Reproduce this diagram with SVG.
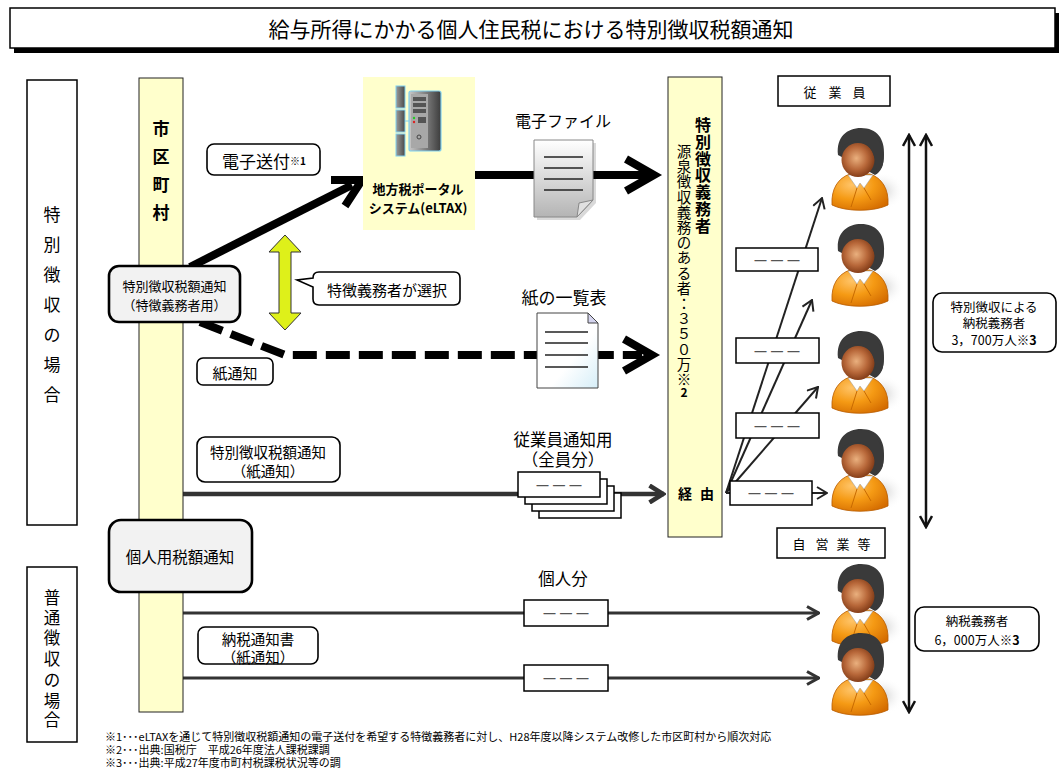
<svg xmlns="http://www.w3.org/2000/svg" width="1062" height="771" viewBox="0 0 1062 771">
<defs>
  <style>
    text{font-family:"Noto Sans CJK JP","Noto Sans CJK SC",sans-serif;fill:#000}
    .c{text-anchor:middle;dominant-baseline:central}
    .b{font-weight:bold}
    .frame{fill:#fff;stroke:#000;stroke-width:1.5}
    .rnd{fill:#fff;stroke:#000;stroke-width:1.6}
    .gray{fill:#f2f2f2;stroke:#000;stroke-width:2.6}
    .col{fill:#ffffcc;stroke:#222;stroke-width:1}
    .dash3{fill:#555;font-size:16.5px}
    .thin{stroke:#222;stroke-width:2;fill:none}
    .mid{stroke:#333;stroke-width:3;fill:none}
    .wide{stroke:#333;stroke-width:4.5;fill:none}
    .heavy{stroke:#000;stroke-width:8;fill:none;stroke-linejoin:miter}
    .vert{stroke:#111;stroke-width:2.5;fill:none}
    .note{font-size:11px}
    .docline{stroke:#222;stroke-width:1.5}
  </style>
  <marker id="ah" viewBox="0 0 12 14" refX="11" refY="7" markerWidth="12" markerHeight="14" markerUnits="userSpaceOnUse" orient="auto-start-reverse">
    <path d="M1,1 L11,7 L1,13" fill="none" stroke="#222" stroke-width="2"/>
  </marker>
  <marker id="ahv" viewBox="0 0 14 14" refX="12" refY="7" markerWidth="14" markerHeight="14" markerUnits="userSpaceOnUse" orient="auto-start-reverse">
    <path d="M1,1 L12,7 L1,13" fill="none" stroke="#111" stroke-width="2.5"/>
  </marker>
  <marker id="ahm" viewBox="0 0 14 16" refX="13" refY="8" markerWidth="14" markerHeight="16" markerUnits="userSpaceOnUse" orient="auto">
    <path d="M1,1.5 L12.5,8 L1,14.5" fill="none" stroke="#333" stroke-width="3"/>
  </marker>
  <marker id="ahl" viewBox="0 0 18 20" refX="16" refY="10" markerWidth="18" markerHeight="20" markerUnits="userSpaceOnUse" orient="auto">
    <path d="M1.5,1.5 L15,10 L1.5,18.5" fill="none" stroke="#333" stroke-width="4.5"/>
  </marker>
  <radialGradient id="gOrange" cx="35%" cy="30%" r="80%">
    <stop offset="0" stop-color="#ffc468"/>
    <stop offset="0.5" stop-color="#f59a14"/>
    <stop offset="1" stop-color="#d46c00"/>
  </radialGradient>
  <radialGradient id="gFace" cx="45%" cy="45%" r="60%">
    <stop offset="0" stop-color="#eab07e"/>
    <stop offset="0.55" stop-color="#b8683a"/>
    <stop offset="1" stop-color="#7a3512"/>
  </radialGradient>
  <radialGradient id="gShadow" cx="50%" cy="50%" r="50%">
    <stop offset="0" stop-color="#cfcfcf"/>
    <stop offset="1" stop-color="#ffffff" stop-opacity="0"/>
  </radialGradient>
  <linearGradient id="gDocGray" x1="0" y1="0" x2="0" y2="1">
    <stop offset="0" stop-color="#ffffff"/>
    <stop offset="1" stop-color="#b4b4b4"/>
  </linearGradient>
  <linearGradient id="gDocBlue" x1="0" y1="0" x2="1" y2="1">
    <stop offset="0.6" stop-color="#ffffff"/>
    <stop offset="1" stop-color="#d6eef8"/>
  </linearGradient>
  <linearGradient id="gRack" x1="0" y1="0" x2="1" y2="0">
    <stop offset="0" stop-color="#9a9a9a"/>
    <stop offset="1" stop-color="#4a4a4a"/>
  </linearGradient>
  <linearGradient id="gTower" x1="0" y1="0" x2="1" y2="0">
    <stop offset="0" stop-color="#c8c8c8"/>
    <stop offset="1" stop-color="#3c3c3c"/>
  </linearGradient>
  <symbol id="person" viewBox="0 0 75 86" width="75" height="86" overflow="visible">
    <ellipse cx="52" cy="64" rx="23" ry="19" fill="url(#gShadow)"/>
    <path d="M2,78 C1,62 8,51 20,47 L40,47 C52,51 59,62 58,78 C44,85 16,85 2,78 Z" fill="url(#gOrange)" stroke="#b85c00" stroke-width="0.8"/>
    <path d="M18,48 L27,61 L30,56 L34,61 L43,48 Z" fill="#fff" stroke="#999" stroke-width="0.5"/>
    <path d="M27,61 L21,80 M34,61 L41,73" stroke="#c86a00" stroke-width="1" fill="none"/>
    <path d="M8,28 C6,10 17,1 31,1 C47,1 55,12 54,28 C54,38 51,45 45,48 L38,44 Z" fill="#3a3a3a"/>
    <ellipse cx="28" cy="33" rx="16.5" ry="17" fill="url(#gFace)"/>
    <path d="M10,27 C11,17 21,12 31,15 C39,17 43,24 45,33 L47,46 L52,40 C57,26 50,4 31,2 C14,2 7,14 10,27 Z" fill="#3a3a3a"/>
  </symbol>
</defs>

<rect width="1062" height="771" fill="#fff"/>

<!-- heading -->
<g id="title">
  <rect x="14" y="13" width="1045" height="40" fill="#000"/>
  <rect x="10" y="8" width="1045" height="40" class="frame"/>
  <text x="531" y="28" class="c" font-size="21">給与所得にかかる個人住民税における特別徴収税額通知</text>
</g>

<!-- section labels -->
<g id="lbl-special">
  <rect x="27" y="80" width="50" height="445" class="frame"/>
  <text class="c" font-size="17"><tspan x="52" y="213">特</tspan><tspan x="52" y="243">別</tspan><tspan x="52" y="273">徴</tspan><tspan x="52" y="303">収</tspan><tspan x="52" y="333">の</tspan><tspan x="52" y="363">場</tspan><tspan x="52" y="393">合</tspan></text>
</g>
<g id="lbl-normal">
  <rect x="27" y="567" width="50" height="175" class="frame"/>
  <text class="c" font-size="16.5"><tspan x="52" y="597">普</tspan><tspan x="52" y="617">通</tspan><tspan x="52" y="637">徴</tspan><tspan x="52" y="658">収</tspan><tspan x="52" y="679">の</tspan><tspan x="52" y="700">場</tspan><tspan x="52" y="719">合</tspan></text>
</g>

<!-- connectors -->
<g id="connectors">
  <line x1="190" y1="267" x2="352" y2="185" class="heavy"/>
  <polyline points="331,180 362,180 345,206" class="heavy"/>
  <line x1="475" y1="175" x2="646" y2="175" class="heavy"/>
  <polyline points="626,159 654,175 626,191" class="heavy"/>
  <path d="M200,322 L285,355 L642,355" class="heavy" stroke-dasharray="24 9"/>
  <polyline points="624,339 652,355 624,371" class="heavy"/>
  <line x1="183" y1="494" x2="664" y2="494" class="wide" marker-end="url(#ahl)"/>
  <line x1="183" y1="613" x2="819" y2="613" class="mid" marker-end="url(#ahm)"/>
  <line x1="183" y1="678" x2="819" y2="678" class="mid" marker-end="url(#ahm)"/>
  <line x1="726" y1="493" x2="822" y2="198" class="thin" marker-end="url(#ah)"/>
  <line x1="726" y1="493" x2="812" y2="300" class="thin" marker-end="url(#ah)"/>
  <line x1="726" y1="493" x2="818" y2="387" class="thin" marker-end="url(#ah)"/>
  <line x1="726" y1="493" x2="827" y2="493" class="thin" marker-end="url(#ah)"/>
  <line x1="909" y1="135" x2="909" y2="712" class="vert" marker-start="url(#ahv)" marker-end="url(#ahv)"/>
  <line x1="926" y1="135" x2="926" y2="527" class="vert" marker-start="url(#ahv)" marker-end="url(#ahv)"/>
</g>

<!-- municipality column -->
<g id="municipality">
  <rect x="139" y="78" width="44" height="634" class="col"/>
  <text class="c b" font-size="17"><tspan x="161" y="127">市</tspan><tspan x="161" y="155">区</tspan><tspan x="161" y="183">町</tspan><tspan x="161" y="211">村</tspan></text>
</g>

<g id="e-send">
  <rect x="207" y="144" width="113" height="31" rx="7" class="rnd"/>
  <text x="222" y="160" font-size="17" dominant-baseline="central">電子送付<tspan font-size="10" font-weight="bold">※1</tspan></text>
</g>

<g id="notice-employer">
  <rect x="109" y="266" width="131" height="56" rx="10" class="gray"/>
  <text x="174.5" y="285" class="c" font-size="13">特別徴収税額通知</text>
  <text x="174.5" y="304" class="c" font-size="13">（特徴義務者用）</text>
</g>

<g id="choice">
  <polygon points="285,235 301,252 291,252 291,313 301,313 285,330 269,313 279,313 279,252 269,252" fill="#def01a" stroke="#333" stroke-width="1"/>
  <path d="M319,272 H454 Q460,272 460,278 V299 Q460,305 454,305 H319 Q313,305 313,299 V287 L297,280 L313,278 V278 Q313,272 319,272 Z" class="rnd"/>
  <text x="387" y="289" class="c" font-size="15">特徴義務者が選択</text>
</g>

<g id="paper-send">
  <rect x="197" y="358" width="76" height="27" rx="6" class="rnd"/>
  <text x="235" y="372" class="c" font-size="15">紙通知</text>
</g>

<g id="eltax">
  <rect x="363" y="77" width="112" height="153" fill="#ffffcc"/>
  <rect x="396" y="86" width="9" height="22" fill="url(#gRack)" stroke="#7fd0f0" stroke-width="1"/>
  <rect x="396" y="110" width="9" height="22" fill="url(#gRack)" stroke="#7fd0f0" stroke-width="1"/>
  <rect x="396" y="134" width="9" height="22" fill="url(#gRack)" stroke="#7fd0f0" stroke-width="1"/>
  <line x1="405" y1="121" x2="409" y2="121" stroke="#7fd0f0" stroke-width="1"/>
  <rect x="409" y="91" width="32" height="60" rx="2" fill="url(#gTower)" stroke="#7fd0f0" stroke-width="1.2"/>
  <rect x="411" y="94" width="17" height="54" fill="#a8a8a8"/>
  <rect x="413" y="97" width="13" height="4" fill="#555"/>
  <rect x="413" y="103" width="13" height="4" fill="#555"/>
  <rect x="413" y="109" width="13" height="4" fill="#555"/>
  <circle cx="414" cy="118" r="1.2" fill="#2c2"/>
  <circle cx="414" cy="122" r="1.2" fill="#d22"/>
  <rect x="418" y="117" width="8" height="6" fill="#555"/>
  <circle cx="419" cy="137" r="2" fill="none" stroke="#444" stroke-width="1"/>
  <text x="418" y="188" class="c b" font-size="13">地方税ポータル</text>
  <text x="418" y="207" class="c b" font-size="13">システム(eLTAX)</text>
</g>

<g id="e-file">
  <text x="563" y="120" class="c" font-size="16">電子ファイル</text>
  <path d="M537,143 H596 V203 L580,220 H537 Z" fill="#000" opacity="0.15"/>
  <path d="M534,140 H593 V200 L577,217 H534 Z" fill="url(#gDocGray)" stroke="#888" stroke-width="1"/>
  <path d="M577,217 L579,203 L593,200 Z" fill="#e0e0e0" stroke="#888" stroke-width="1"/>
  <line x1="544" y1="157" x2="583" y2="157" class="docline"/>
  <line x1="544" y1="168" x2="583" y2="168" class="docline"/>
  <line x1="544" y1="179" x2="583" y2="179" class="docline"/>
  <line x1="544" y1="190" x2="583" y2="190" class="docline"/>
</g>

<g id="paper-list">
  <text x="564" y="296" class="c" font-size="17">紙の一覧表</text>
  <path d="M537,313 H588 L598,323 V388 H537 Z" fill="url(#gDocBlue)" stroke="#444" stroke-width="1"/>
  <path d="M588,313 V323 H598 Z" fill="#d4d4ee" stroke="#444" stroke-width="1"/>
  <line x1="545" y1="332" x2="588" y2="332" class="docline"/>
  <line x1="545" y1="343" x2="588" y2="343" class="docline"/>
  <line x1="545" y1="355" x2="588" y2="355" class="docline"/>
  <line x1="545" y1="367" x2="588" y2="367" class="docline"/>
</g>

<g id="notice-paper">
  <rect x="197" y="437" width="143" height="45" rx="8" class="rnd"/>
  <text x="268" y="451" class="c" font-size="14.5">特別徴収税額通知</text>
  <text x="268" y="470" class="c" font-size="14.5">（紙通知）</text>
</g>

<g id="employee-sheets">
  <text x="563" y="439" class="c" font-size="16.5">従業員通知用</text>
  <text x="563" y="459" class="c" font-size="16.5">（全員分）</text>
  <rect x="539" y="493" width="82" height="25" class="frame" stroke-width="1.2"/>
  <rect x="532" y="486" width="82" height="25" class="frame" stroke-width="1.2"/>
  <rect x="525" y="479" width="82" height="25" class="frame" stroke-width="1.2"/>
  <rect x="518" y="472" width="82" height="25" class="frame" stroke-width="1.2"/>
  <text x="559" y="485" class="c dash3">－－－</text>
</g>

<g id="personal-notice">
  <rect x="109" y="520" width="143" height="72" rx="12" class="gray"/>
  <text x="180" y="556" class="c" font-size="15.5">個人用税額通知</text>
</g>

<g id="tax-notice">
  <rect x="198" y="627" width="120" height="37" rx="7" class="rnd"/>
  <text x="258" y="638" class="c" font-size="14.5">納税通知書</text>
  <text x="258" y="656" class="c" font-size="14.5">（紙通知）</text>
</g>

<g id="personal-share">
  <text x="563" y="578" class="c" font-size="16.5">個人分</text>
  <rect x="524" y="600" width="84" height="26" class="frame"/>
  <text x="566" y="613" class="c dash3">－－－</text>
  <rect x="524" y="665" width="84" height="26" class="frame"/>
  <text x="566" y="678" class="c dash3">－－－</text>
</g>

<!-- special collection obligor column -->
<g id="obligor">
  <rect x="668" y="77" width="54" height="460" class="col"/>
  <text class="c b" font-size="16"><tspan x="703" y="124">特</tspan><tspan x="703" y="141">別</tspan><tspan x="703" y="158">徴</tspan><tspan x="703" y="174">収</tspan><tspan x="703" y="191">義</tspan><tspan x="703" y="208">務</tspan><tspan x="703" y="225">者</tspan></text>
  <text class="c" font-size="14.5"><tspan x="684" y="150">源</tspan><tspan x="684" y="165">泉</tspan><tspan x="684" y="180">徴</tspan><tspan x="684" y="196">収</tspan><tspan x="684" y="211">義</tspan><tspan x="684" y="226">務</tspan><tspan x="684" y="241">の</tspan><tspan x="684" y="256">あ</tspan><tspan x="684" y="272">る</tspan><tspan x="684" y="287">者</tspan><tspan x="684" y="302">：</tspan><tspan x="684" y="317">３</tspan><tspan x="684" y="332">５</tspan><tspan x="684" y="348">０</tspan><tspan x="684" y="363">万</tspan><tspan x="684" y="378" font-weight="bold">※</tspan><tspan x="684" y="391" font-weight="bold" font-size="12">2</tspan></text>
  <text class="c b" font-size="14"><tspan x="685" y="493">経</tspan><tspan x="707" y="493">由</tspan></text>
</g>

<g id="route-slips">
  <rect x="736" y="248" width="82" height="23" class="frame"/>
  <text x="777" y="260" class="c dash3">－－－</text>
  <rect x="736" y="338" width="83" height="25" class="frame"/>
  <text x="777" y="351" class="c dash3">－－－</text>
  <rect x="736" y="413" width="83" height="25" class="frame"/>
  <text x="777" y="426" class="c dash3">－－－</text>
  <rect x="730" y="481" width="82" height="24" class="frame"/>
  <text x="771" y="493" class="c dash3">－－－</text>
</g>

<g id="employees">
  <rect x="778" y="76" width="112" height="30" class="frame" stroke-width="1.8"/>
  <text class="c" font-size="13"><tspan x="810" y="91">従</tspan><tspan x="835" y="91">業</tspan><tspan x="859" y="91">員</tspan></text>
  <use href="#person" x="830" y="127"/>
  <use href="#person" x="830" y="223"/>
  <use href="#person" x="830" y="330"/>
  <use href="#person" x="830" y="428"/>
</g>

<g id="self-employed">
  <rect x="777" y="528" width="108" height="30" class="frame" stroke-width="1.8"/>
  <text class="c" font-size="13"><tspan x="799" y="543">自</tspan><tspan x="822" y="543">営</tspan><tspan x="843" y="543">業</tspan><tspan x="864" y="543">等</tspan></text>
  <use href="#person" x="830" y="563"/>
  <use href="#person" x="830" y="632"/>
</g>

<g id="count-special">
  <rect x="933" y="293" width="123" height="59" rx="9" class="rnd"/>
  <text x="994" y="306" class="c" font-size="12.5">特別徴収による</text>
  <text x="994" y="322" class="c" font-size="12.5">納税義務者</text>
  <text x="994" y="339" class="c" font-size="12.5">3，700万人<tspan font-weight="bold">※3</tspan></text>
</g>

<g id="count-all">
  <rect x="915" y="607" width="124" height="44" rx="9" class="rnd"/>
  <text x="977" y="620" class="c" font-size="12.5">納税義務者</text>
  <text x="977" y="639" class="c" font-size="12.5">6，000万人<tspan font-weight="bold">※3</tspan></text>
</g>

<g id="notes">
  <text x="105" y="741" class="note">※1･･･eLTAXを通じて特別徴収税額通知の電子送付を希望する特徴義務者に対し、H28年度以降システム改修した市区町村から順次対応</text>
  <text x="105" y="754" class="note">※2･･･出典:国税庁　平成26年度法人課税課調</text>
  <text x="105" y="767" class="note">※3･･･出典:平成27年度市町村税課税状況等の調</text>
</g>
</svg>
